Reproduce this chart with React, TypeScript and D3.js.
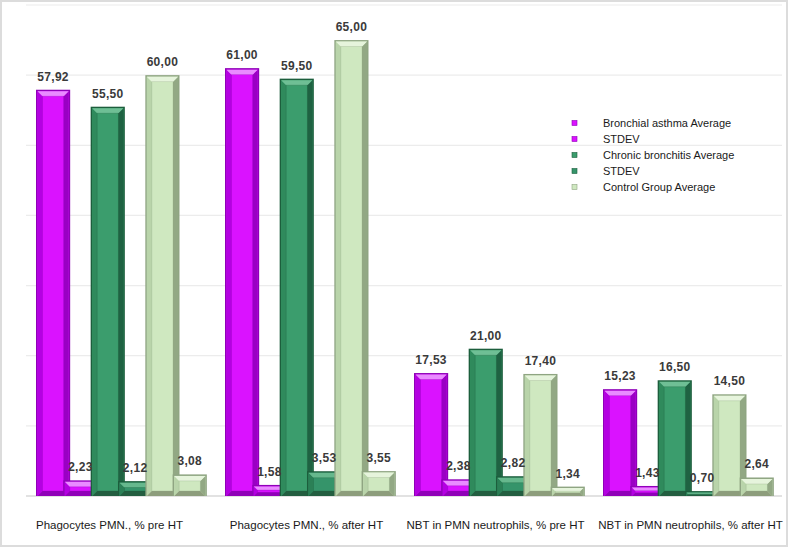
import React from "react";
import * as d3 from "d3";

const categories = [
  "Phagocytes PMN., % pre HT",
  "Phagocytes PMN., % after HT",
  "NBT in PMN neutrophils, % pre HT",
  "NBT in PMN neutrophils, % after HT",
];
const baAvg = [57.92, 61.0, 17.53, 15.23];
const baStd = [2.23, 1.58, 2.38, 1.43];
const cbAvg = [55.5, 59.5, 21.0, 16.5];
const cbStd = [2.12, 3.53, 2.82, 0.7];
const ctrlAvg = [60.0, 65.0, 17.4, 14.5];
const ctrlStd = [3.08, 3.55, 1.34, 2.64];
const yTicks = [0, 10, 20, 30, 40, 50, 60, 70];

// small horizontal nudges of the category labels (layout only)
const labelDx = [-11, -3, -3, 3];

type Pal = { outer: string; face: string; light: string; left: string; right: string; bottom: string };

const purple: Pal = { outer: "#8f00b8", face: "#da12ff", light: "#e98bff", left: "#b400e2", right: "#9a00c4", bottom: "#9000b8" };
const green: Pal = { outer: "#1c5e3c", face: "#3b9d6d", light: "#6fbf95", left: "#2f8a5c", right: "#1f6242", bottom: "#235e40" };
const green2: Pal = { outer: "#1c5e3c", face: "#35946a", light: "#66b88d", left: "#2b8056", right: "#1f6242", bottom: "#235e40" };
const light: Pal = { outer: "#8fa582", face: "#cfe8c0", light: "#e6f4dc", left: "#b9d4aa", right: "#92a884", bottom: "#8d9d7c" };

const series = [
  { key: "baAvg", values: baAvg, pal: purple, legend: "Bronchial asthma Average" },
  { key: "baStd", values: baStd, pal: purple, legend: "STDEV" },
  { key: "cbAvg", values: cbAvg, pal: green, legend: "Chronic bronchitis Average" },
  { key: "cbStd", values: cbStd, pal: green2, legend: "STDEV" },
  { key: "ctrlAvg", values: ctrlAvg, pal: light, legend: "Control Group Average" },
  { key: "ctrlStd", values: ctrlStd, pal: light, legend: null },
];

const W = 789;
const H = 549;
const x0 = d3.scaleBand<string>().domain(categories).range([26, 782]);
const x1 = d3.scaleBand<string>().domain(series.map((s) => s.key)).range([0, 164]);
const y = d3.scaleLinear().domain([0, 70]).range([496, 5]);
const fmt = (v: number) => d3.format(".2f")(v).replace(".", ",");

function Bar({ x, top, w, h, pal }: { x: number; top: number; w: number; h: number; pal: Pal }) {
  const bot = top + h;
  const i = 1.5;
  const b = Math.min(5, h / 3);
  const L = x + i, R = x + w - i, T = top + i, B = bot;
  return (
    <g>
      <rect x={x} y={top} width={w} height={h} fill={pal.outer} />
      <rect x={L} y={T} width={R - L} height={B - T} fill={pal.face} />
      <polygon points={`${L},${T} ${L + b},${T + b} ${L + b},${B - b} ${L},${B}`} fill={pal.left} />
      <polygon points={`${R},${T} ${R - b},${T + b} ${R - b},${B - b} ${R},${B}`} fill={pal.right} />
      <polygon points={`${L},${B} ${L + b},${B - b} ${R - b},${B - b} ${R},${B}`} fill={pal.bottom} />
      <polygon points={`${L},${T} ${R},${T} ${R - b},${T + b} ${L + b},${T + b}`} fill={pal.light} />
      <rect x={L + b} y={T + b} width={Math.max(0, R - L - 2 * b)} height={Math.max(0, B - T - 2 * b)} fill="none" stroke={pal.outer} strokeOpacity={0.35} strokeWidth={0.8} />
    </g>
  );
}

export default function App() {
  const bw = x1.bandwidth() * 1.25;
  return (
    <svg width={W} height={H} style={{ position: "absolute", left: 0, top: 0, background: "#fff" }} fontFamily="'Liberation Sans', Arial, sans-serif">
      <rect x={1} y={1} width={786} height={545} fill="#fff" stroke="#dcdcdc" strokeWidth={2} />
      {yTicks.map((t) => (
        <line key={t} x1={26} x2={782} y1={y(t)} y2={y(t)} stroke={t === 0 ? "#d9d9d9" : "#ececec"} strokeWidth={t === 0 ? 1.5 : 1.2} />
      ))}
      {categories.map((c, ci) => (
        <g key={c}>
          {series.map((s) => {
            const bx = (x0(c) as number) + 10 + (x1(s.key) as number);
            const v = s.values[ci];
            const top = y(v);
            return <Bar key={s.key} x={bx} top={top} w={bw} h={y(0) - top} pal={s.pal} />;
          })}
        </g>
      ))}
      {categories.map((c, ci) => (
        <g key={c + "l"}>
          {series.map((s) => {
            const bx = (x0(c) as number) + 10 + (x1(s.key) as number);
            const v = s.values[ci];
            return (
              <text key={s.key} x={bx + bw / 2} y={y(v) - 9} textAnchor="middle" fontSize={12} fontWeight="bold" fill="#3a3a3a" letterSpacing={0.3}>
                {fmt(v)}
              </text>
            );
          })}
          <text x={(x0(c) as number) + x0.bandwidth() / 2 + labelDx[ci]} y={529} textAnchor="middle" fontSize={11.5} fill="#1a1a1a">
            {c}
          </text>
        </g>
      ))}
      <g>
        {series.filter((s) => s.legend).map((s, i) => (
          <g key={s.key} transform={`translate(0, ${123 + i * 16})`}>
            <rect x={572} y={-2.5} width={5} height={5} fill={s.pal.face} stroke={s.pal.outer} strokeWidth={0.6} />
            <text x={603} y={4} fontSize={11} fill="#1a1a1a">
              {s.legend}
            </text>
          </g>
        ))}
      </g>
    </svg>
  );
}
